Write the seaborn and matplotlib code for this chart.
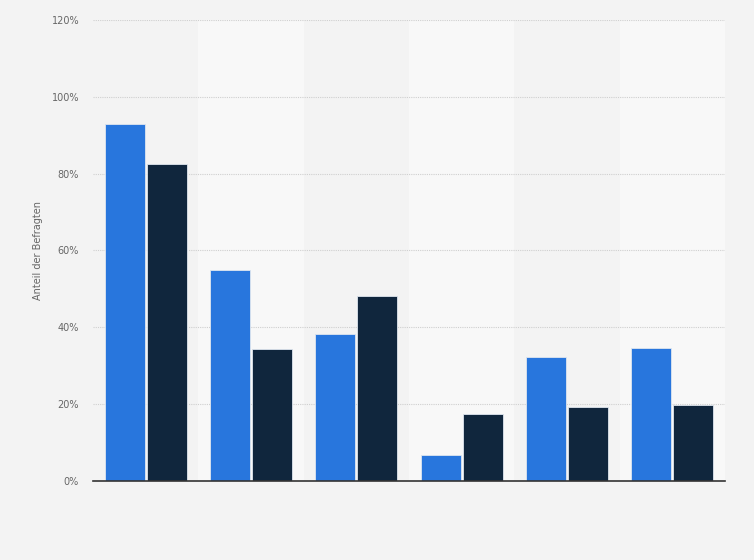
import pandas as pd
import seaborn as sns
import matplotlib.pyplot as plt
from matplotlib.ticker import FuncFormatter

# --------------------------------------------------------------
# Data
# --------------------------------------------------------------
categories = ["A", "B", "C", "D", "E", "F"]
series_names = ["Serie 1", "Serie 2"]
values_blue = [93.0, 55.0, 38.3, 6.8, 32.3, 34.6]
values_navy = [82.5, 34.4, 48.2, 17.4, 19.3, 19.8]
y_ticks = [0, 20, 40, 60, 80, 100, 120]

colors = ["#2876dd", "#10263d"]
bg = "#f3f3f3"
band = "#f8f8f8"

df = pd.DataFrame({
    "category": categories * 2,
    "series": [series_names[0]] * len(categories) + [series_names[1]] * len(categories),
    "value": values_blue + values_navy,
})

# --------------------------------------------------------------
# Plot
# --------------------------------------------------------------
sns.set_style("white")
plt.rcParams["font.family"] = ["DejaVu Sans"]

fig = plt.figure(figsize=(7.54, 5.6), dpi=100, facecolor=bg)
ax = fig.add_axes([0.1233, 0.1411, 0.9615 - 0.1233, 0.9643 - 0.1411])
ax.set_facecolor(bg)

# alternating background bands
for i in range(len(categories)):
    if i % 2 == 1:
        ax.axvspan(i - 0.5, i + 0.5, color=band, zorder=0, lw=0)

sns.barplot(data=df, x="category", y="value", hue="series", palette=colors,
            width=0.8, gap=0.05, ax=ax, legend=False, zorder=3,
            edgecolor="#dfe6ef", linewidth=0.6, saturation=1)

ax.set_xlim(-0.5, len(categories) - 0.5)
ax.set_ylim(0, 120)
ax.set_yticks(y_ticks)
ax.yaxis.set_major_formatter(FuncFormatter(lambda v, p: f"{v:.0f}%"))
ax.grid(axis="y", color="#cfcfcf", linestyle=(0, (1, 1)), linewidth=0.8, zorder=1)
ax.set_axisbelow(True)

ax.tick_params(axis="y", length=0, labelsize=7, labelcolor="#666666", pad=10)
ax.tick_params(axis="x", length=0, labelbottom=False)
ax.set_xlabel("")
ax.set_ylabel("Anteil der Befragten", fontsize=7, color="#666666", labelpad=6)

for side in ["top", "right", "left"]:
    ax.spines[side].set_visible(False)
ax.spines["bottom"].set_color("#333333")
ax.spines["bottom"].set_linewidth(1.2)
ax.spines["bottom"].set_zorder(5)

fig.savefig("out.png", dpi=100, facecolor=bg)
